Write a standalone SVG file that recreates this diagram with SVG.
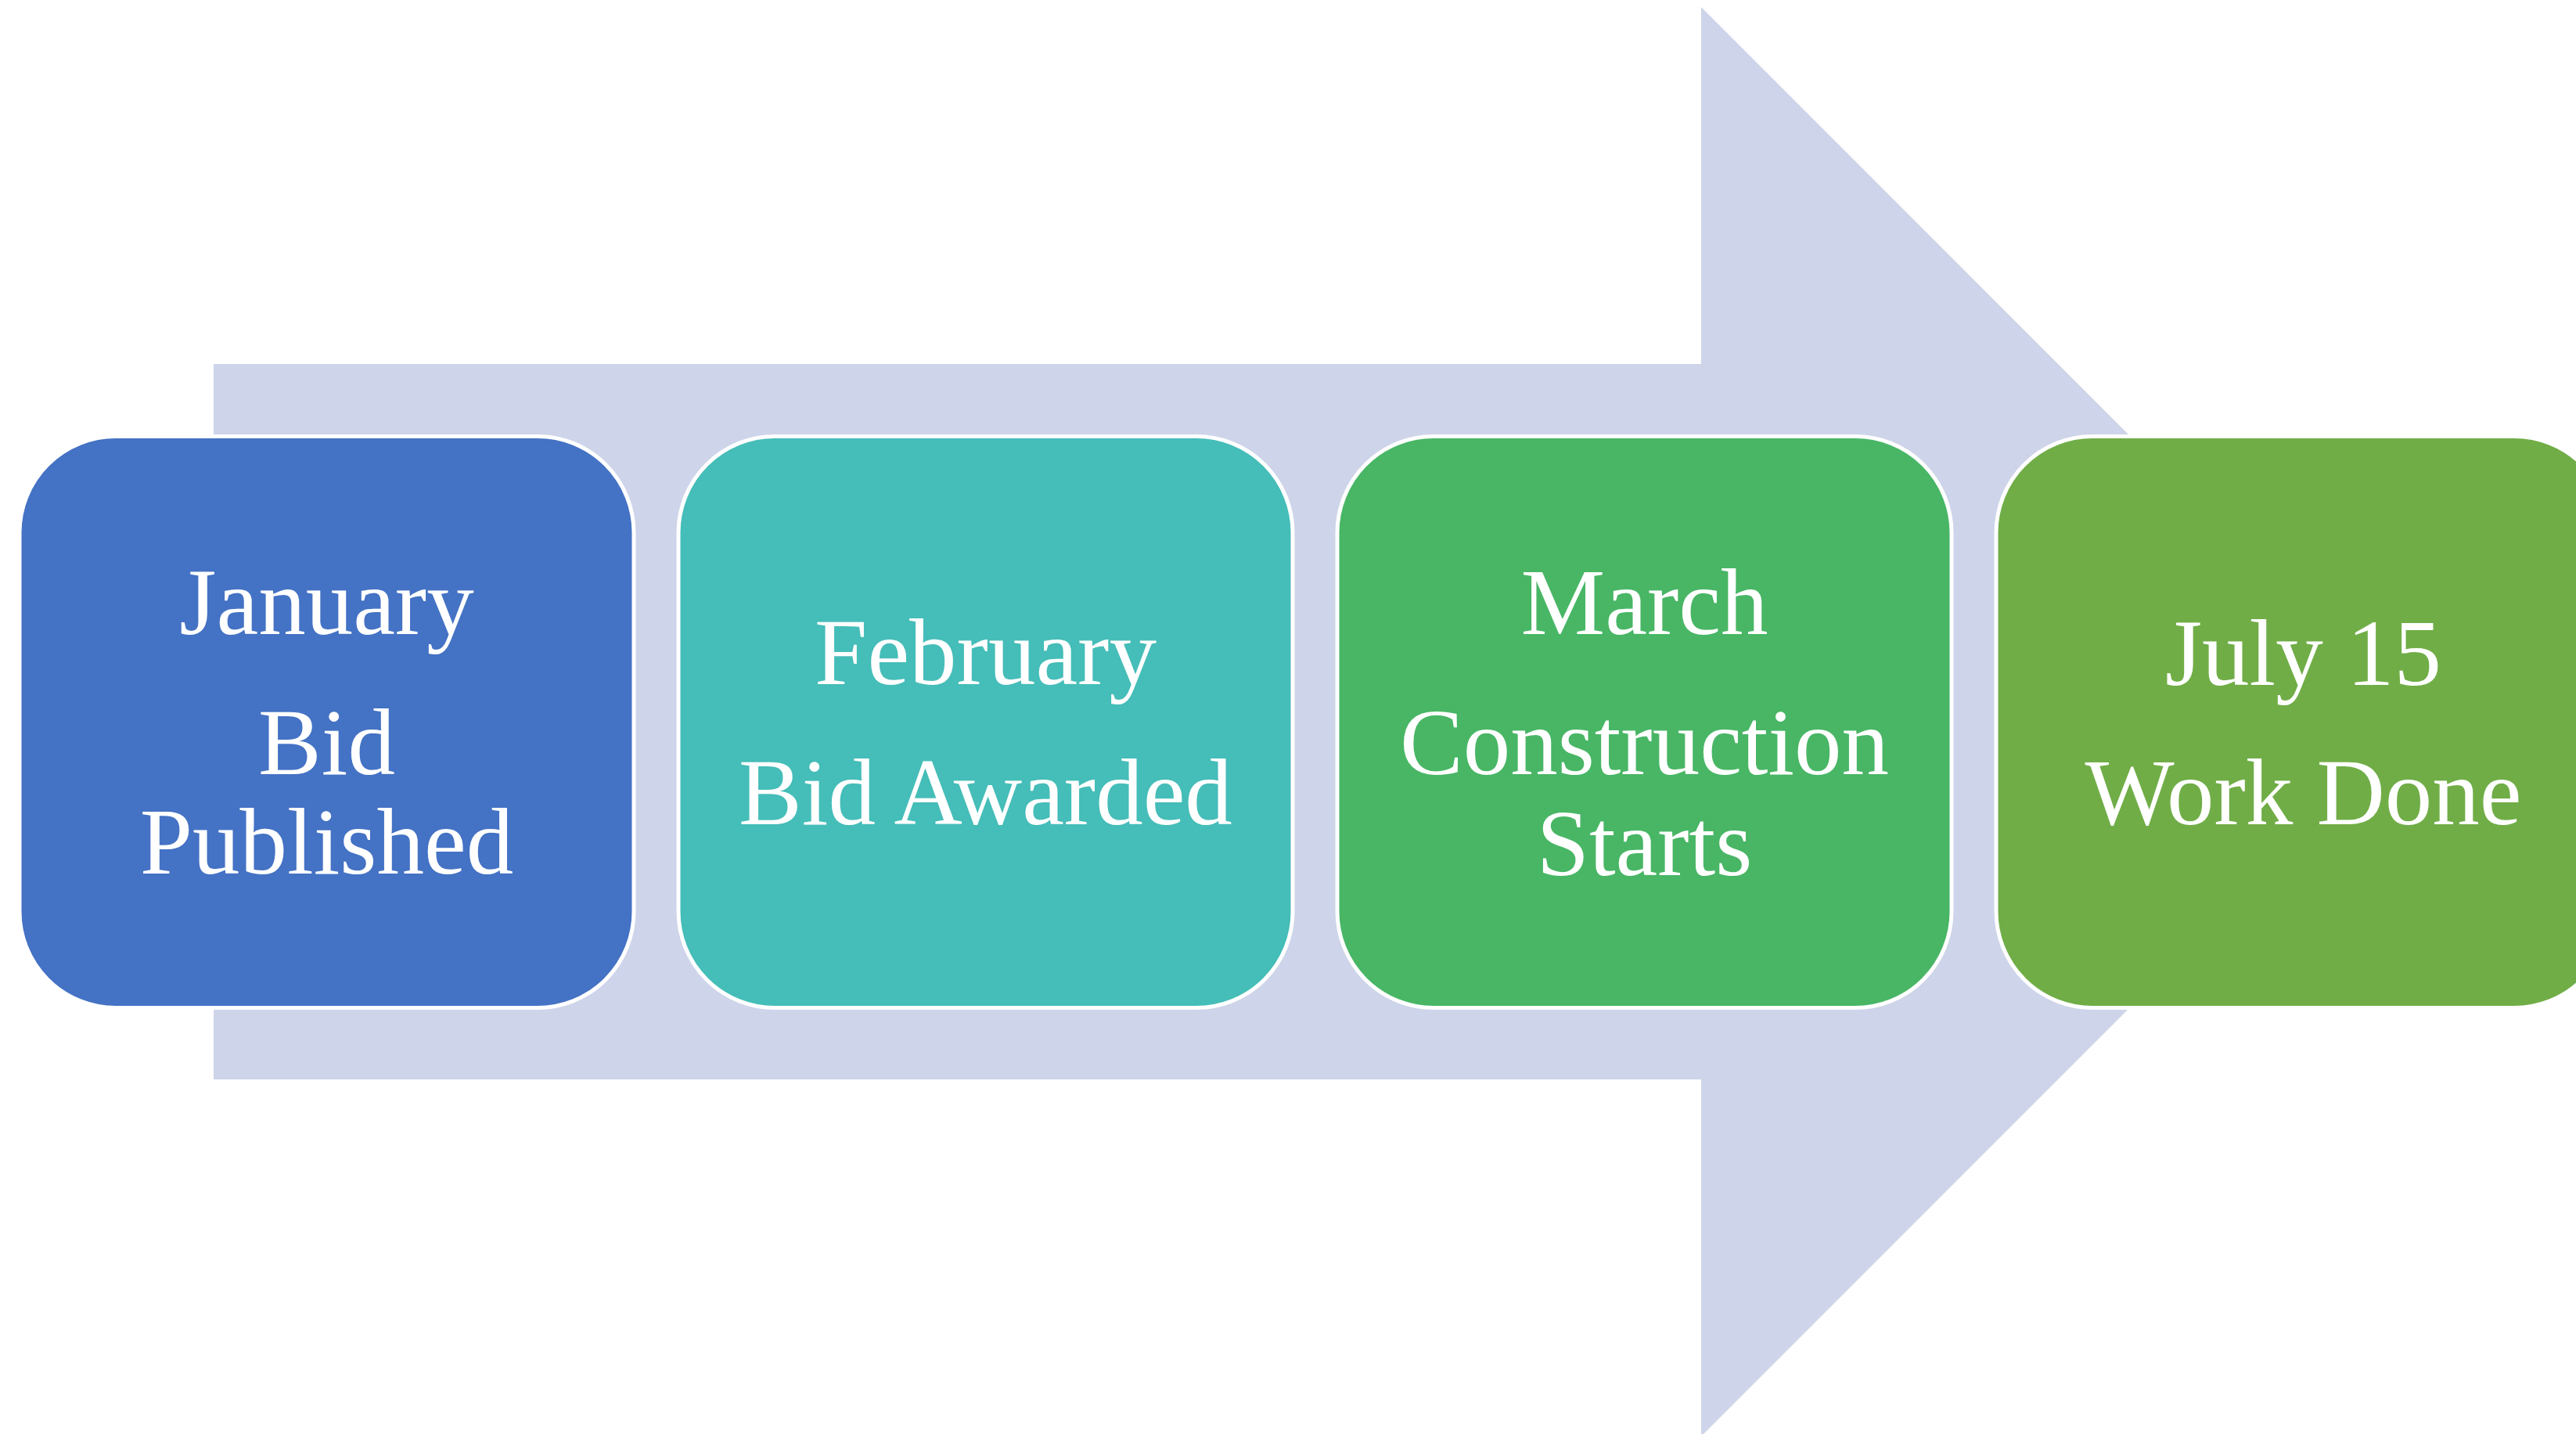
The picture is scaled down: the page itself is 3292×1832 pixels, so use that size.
<svg xmlns="http://www.w3.org/2000/svg" width="3292" height="1832" viewBox="0 0 3292 1832">
<style>
.box{stroke:#FFFFFF;stroke-width:5}
.t{font-family:"Liberation Serif","Times New Roman",serif;font-size:121px;fill:#FFFFFF;text-anchor:middle}
</style>
<rect width="3292" height="1832" fill="#FFFFFF"/>
<g id="connectors">
<polygon id="arrow" points="273,465 2174,465 2174,9 3087,922 2174,1835 2174,1379 273,1379" fill="#CED4E9"/>
</g>
<g id="node1">
<rect class="box" x="25" y="557.5" width="785" height="730" rx="123" ry="123" fill="#4472C4"/>
<text class="t" x="417.5" y="810">January</text>
<text class="t" x="417.5" y="989">Bid</text>
<text class="t" x="417.5" y="1116">Published</text>
</g>
<g id="node2">
<rect class="box" x="867" y="557.5" width="785" height="730" rx="123" ry="123" fill="#45BDB8"/>
<text class="t" x="1259.5" y="874">February</text>
<text class="t" x="1259.5" y="1053">Bid Awarded</text>
</g>
<g id="node3">
<rect class="box" x="1709" y="557.5" width="785" height="730" rx="123" ry="123" fill="#48B665"/>
<text class="t" x="2101.5" y="810">March</text>
<text class="t" x="2101.5" y="989">Construction</text>
<text class="t" x="2101.5" y="1118">Starts</text>
</g>
<g id="node4">
<rect class="box" x="2551" y="557.5" width="785" height="730" rx="123" ry="123" fill="#70AD47"/>
<text class="t" x="2943.5" y="875">July 15</text>
<text class="t" x="2943.5" y="1053">Work Done</text>
</g>
</svg>
